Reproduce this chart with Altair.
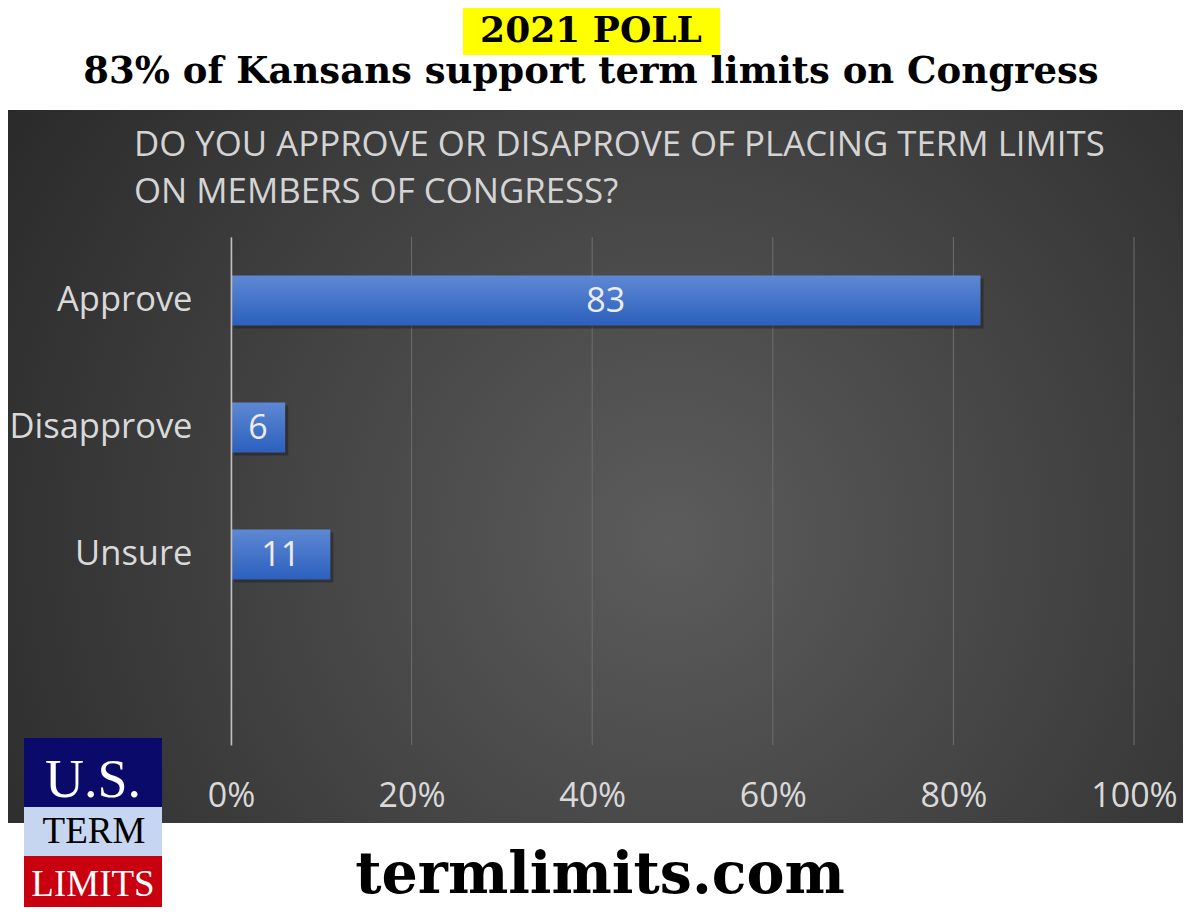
import altair as alt
import pandas as pd

# ---- data ----
categories = ["Approve", "Disapprove", "Unsure"]
values = [83, 6, 11]
y_domain = ["Approve", "Disapprove", "Unsure", ""]
x_ticks = [0, 20, 40, 60, 80, 100]

poll_label = "2021 POLL"
headline = "83% of Kansans support term limits on Congress"
question = ["DO YOU APPROVE OR DISAPROVE OF PLACING TERM LIMITS",
            "ON MEMBERS OF CONGRESS?"]
footer = "termlimits.com"
logo_lines = ["U.S.", "TERM", "LIMITS"]

W, H = 903, 508
LABEL = "#d9d9d9"
SANS = "Open Sans"
SLAB = "DejaVu Serif"

df = pd.DataFrame({"cat": categories, "value": values})
one = pd.DataFrame({"k": [0]})
ticks_df = pd.DataFrame({"t": x_ticks})

x_scale = alt.Scale(domain=[0, 100], nice=False, zero=True)
y_scale = alt.Scale(domain=y_domain, paddingInner=0.606, paddingOuter=0.303)

x_axis = alt.Axis(values=x_ticks, labelExpr="datum.value + '%'", grid=False,
                  domain=False, ticks=False, tickSize=0, labelPadding=61,
                  labelFlush=False, labelOverlap=False,
                  labelBaseline="alphabetic", labelFontSize=34, labelFont=SANS,
                  labelColor=LABEL, title=None, zindex=1)
y_axis = alt.Axis(title=None, grid=False, ticks=False, tickSize=0, labelPadding=39,
                  labelFontSize=34.5, labelFont=SANS, labelColor=LABEL, labelLimit=400,
                  domainColor="#bfbfbf", domainWidth=1.5, zindex=1)

bg_gradient = {"gradient": "radial", "x1": 0.56, "y1": 0.56, "r1": 0,
               "x2": 0.56, "y2": 0.56, "r2": 0.75,
               "stops": [{"offset": 0, "color": "#5c5c5c"},
                         {"offset": 1, "color": "#232323"}]}
bar_gradient = {"gradient": "linear", "x1": 0, "y1": 0, "x2": 0, "y2": 1,
                "stops": [{"offset": 0, "color": "#5e88d4"},
                          {"offset": 1, "color": "#2c60bd"}]}

def box(color, x, x2, y, y2):
    return alt.Chart(one).mark_rect(color=color).encode(
        x=alt.value(x), x2=alt.value(x2), y=alt.value(y), y2=alt.value(y2))

def label(text, x, y, size, color, font, weight="normal", align="center", line_height=None):
    kw = dict(font=font, fontSize=size, fontWeight=weight, color=color,
              align=align, baseline="alphabetic")
    if line_height:
        kw["lineHeight"] = line_height
    return alt.Chart(one).mark_text(**kw).encode(
        x=alt.value(x), y=alt.value(y), text=alt.value(text))

bg = alt.Chart(one).mark_rect(color=bg_gradient).encode(
    x=alt.value(-232), x2=alt.value(966), y=alt.value(-127), y2=alt.value(586))

yellow = box("#ffff00", 232, 489, -240, -182)
poll = label(poll_label, 360, -195, 36, "black", SLAB, "bold")
head = label(headline, 360, -154, 37, "black", SLAB, "bold")
q = label(question, -97, -81, 34.8, "#d4d4d4", SANS, align="left", line_height=47)

grid = alt.Chart(ticks_df).mark_rule(color="#6e6e6e", strokeWidth=1).encode(
    x=alt.X("t:Q", scale=x_scale, axis=x_axis),
    y=alt.value(0), y2=alt.value(H))

shadow = alt.Chart(df).mark_bar(color="#1a1a1a", opacity=0.45, xOffset=3, yOffset=3).encode(
    x=alt.X("value:Q", scale=x_scale, axis=x_axis),
    y=alt.Y("cat:N", scale=y_scale, axis=y_axis))

bars = alt.Chart(df).mark_bar(color=bar_gradient).encode(
    x=alt.X("value:Q", scale=x_scale, axis=x_axis),
    y=alt.Y("cat:N", scale=y_scale, axis=y_axis))

vals = alt.Chart(df).transform_calculate(mid="datum.value / 2").mark_text(
    font=SANS, fontSize=34, color="#ececec", baseline="middle", dy=1).encode(
    x=alt.X("mid:Q", scale=x_scale, axis=x_axis),
    y=alt.Y("cat:N", scale=y_scale, axis=y_axis),
    text=alt.Text("value:Q"))

logo_navy = box("#0a0a6b", -207, -69, 501, 570)
logo_blue = box("#c6d6f0", -207, -69, 570, 619)
logo_red = box("#c8000f", -207, -69, 619, 672)
logo_us = label(logo_lines[0], -138, 560, 54, "white", "Liberation Serif")
logo_term = label(logo_lines[1], -137, 606, 37, "black", "Liberation Serif")
logo_limits = label(logo_lines[2], -138, 659, 37, "white", "Liberation Serif")

foot = label(footer, 369, 656, 57, "black", SLAB, "bold")

chart = alt.layer(
    bg, yellow, poll, head, q, grid, shadow, bars, vals,
    logo_navy, logo_blue, logo_red, logo_us, logo_term, logo_limits, foot
).properties(
    width=W, height=H,
    autosize=alt.AutoSizeParams(type="none"),
    padding={"left": 223, "top": 229, "right": 49, "bottom": 162},
    background="white",
).configure_view(stroke=None)

chart.save("out.html", embed_options={"renderer": "svg", "actions": False})
